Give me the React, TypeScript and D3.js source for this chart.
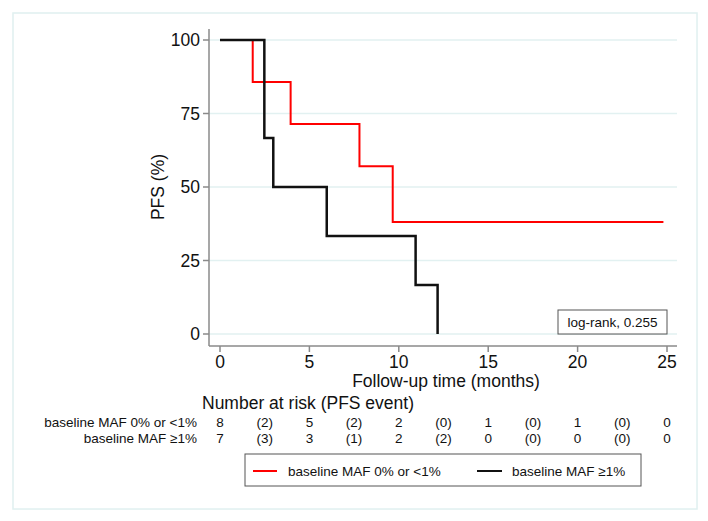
import React from 'react';
import * as d3 from 'd3';

// Kaplan-Meier steps
const groupNames = ['baseline MAF 0% or <1%', 'baseline MAF \u22651%'];
const groupColors = ['#ff0000', '#111111'];
const lowTimes = [0, 1.83, 3.95, 7.8, 9.66, 24.8];
const lowSurv = [100, 85.7, 71.4, 57.1, 38.1, 38.1];
const highTimes = [0, 2.48, 2.98, 5.97, 10.94, 12.17];
const highSurv = [100, 66.7, 50, 33.3, 16.7, 0];

const xTicks = [0, 5, 10, 15, 20, 25];
const yTicks = [0, 25, 50, 75, 100];

// number at risk table (events in brackets)
const riskTimes = [0, 2.5, 5, 7.5, 10, 12.5, 15, 17.5, 20, 22.5, 25];
const riskLow = ['8', '(2)', '5', '(2)', '2', '(0)', '1', '(0)', '1', '(0)', '0'];
const riskHigh = ['7', '(3)', '3', '(1)', '2', '(2)', '0', '(0)', '0', '(0)', '0'];

const pText = 'log-rank, 0.255';

const W = 708;
const H = 521;
const font = '"Liberation Sans", Arial, Helvetica, sans-serif';

export default function App() {
  const x = d3.scaleLinear().domain([0, 25]).range([220, 667]);
  const y = d3.scaleLinear().domain([0, 100]).range([334, 40]);

  const line = d3
    .line<[number, number]>()
    .x(d => x(d[0]))
    .y(d => y(d[1]))
    .curve(d3.curveStepAfter);

  const series = [
    d3.zip(lowTimes, lowSurv) as [number, number][],
    d3.zip(highTimes, highSurv) as [number, number][],
  ];
  const risks = [riskLow, riskHigh];

  const axisColor = '#8a8a8a';
  const gridColor = '#e2f1f1';

  return (
    <svg
      width={W}
      height={H}
      style={{ position: 'absolute', left: 0, top: 0, background: '#fff' }}
      fontFamily={font}
    >
      <rect x={13} y={13} width={684} height={496} fill="#fff" stroke="#e0f0f0" strokeWidth={1.5} />

      {/* grid */}
      {yTicks.map(t => (
        <line key={'g' + t} x1={209} x2={677} y1={y(t)} y2={y(t)} stroke={gridColor} strokeWidth={1.5} />
      ))}

      {/* axes */}
      <line x1={209} x2={209} y1={29} y2={346} stroke={axisColor} strokeWidth={1.5} />
      <line x1={209} x2={677} y1={346} y2={346} stroke={axisColor} strokeWidth={1.5} />
      {yTicks.map(t => (
        <g key={'y' + t}>
          <line x1={203} x2={209} y1={y(t)} y2={y(t)} stroke={axisColor} strokeWidth={1.5} />
          <text x={200} y={y(t)} dy="0.35em" textAnchor="end" fontSize={17.5} fill="#111">
            {t}
          </text>
        </g>
      ))}
      {xTicks.map(t => (
        <g key={'x' + t}>
          <line x1={x(t)} x2={x(t)} y1={346} y2={352} stroke={axisColor} strokeWidth={1.5} />
          <text x={x(t)} y={362} dy="0.35em" textAnchor="middle" fontSize={17.5} fill="#111">
            {t}
          </text>
        </g>
      ))}

      <text x={446} y={381} dy="0.35em" textAnchor="middle" fontSize={17.5} fill="#111">
        Follow-up time (months)
      </text>
      <text
        transform="translate(158,187) rotate(-90)"
        dy="0.35em"
        textAnchor="middle"
        fontSize={17.5}
        fill="#111"
      >
        PFS (%)
      </text>

      {/* curves */}
      {series.map((s, i) => (
        <path
          key={'s' + i}
          d={line(s) || ''}
          fill="none"
          stroke={groupColors[i]}
          strokeWidth={i === 0 ? 2 : 2.5}
        />
      ))}

      {/* log-rank box */}
      <rect x={558} y={310} width={109} height={24} fill="#fff" stroke="#555" strokeWidth={1} />
      <text x={612.5} y={322} dy="0.35em" textAnchor="middle" fontSize={13.5} fill="#111">
        {pText}
      </text>

      {/* number at risk */}
      <text x={202} y={403} dy="0.35em" fontSize={17.5} fill="#111">
        Number at risk (PFS event)
      </text>
      {risks.map((r, i) => (
        <g key={'r' + i}>
          <text x={197} y={422 + i * 16} dy="0.35em" textAnchor="end" fontSize={13.5} fill="#111">
            {groupNames[i]}
          </text>
          {r.map((v, j) => (
            <text
              key={j}
              x={x(riskTimes[j])}
              y={422 + i * 16}
              dy="0.35em"
              textAnchor="middle"
              fontSize={13.5}
              fill="#111"
            >
              {v}
            </text>
          ))}
        </g>
      ))}

      {/* legend */}
      <rect x={245} y={454} width={396} height={32} fill="#fff" stroke="#555" strokeWidth={1} />
      <line x1={253} x2={277} y1={471} y2={471} stroke={groupColors[0]} strokeWidth={2} />
      <text x={288} y={471} dy="0.35em" fontSize={13.5} fill="#111">
        {groupNames[0]}
      </text>
      <line x1={477} x2={502} y1={471} y2={471} stroke={groupColors[1]} strokeWidth={2} />
      <text x={512} y={471} dy="0.35em" fontSize={13.5} fill="#111">
        {groupNames[1]}
      </text>
    </svg>
  );
}
